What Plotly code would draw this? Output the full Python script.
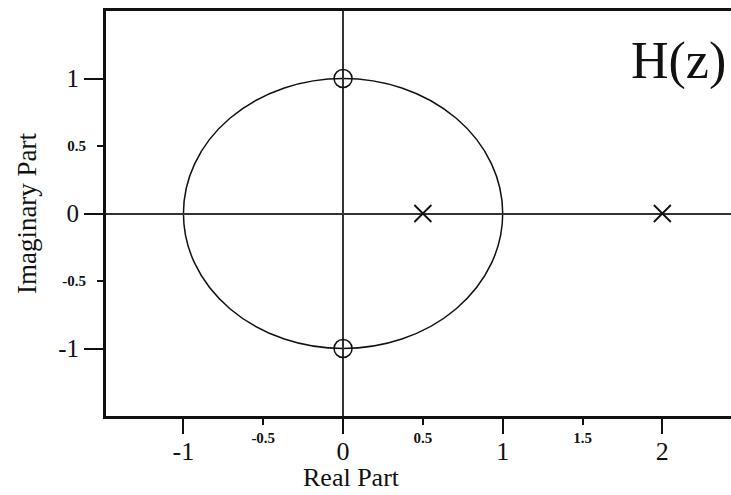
import plotly.graph_objects as go

# pole-zero data for H(z)
zeros_re = [0, 0]
zeros_im = [1, -1]
poles_re = [0.5, 2]
poles_im = [0, 0]
unit_radius = 1

# axis ticks (integers get long ticks and big labels, halves short/small)
x_major = [-1, 0, 1, 2]
x_minor = [-0.5, 0.5, 1.5]
y_major = [-1, 0, 1]
y_minor = [-0.5, 0.5]
x_range = [-1.485, 2.43]
y_range = [-1.5, 1.5]

SERIF = "Liberation Serif, Times New Roman, serif"
INK = "#111111"

fig = go.Figure()

fig.add_trace(go.Scatter(
    x=zeros_re, y=zeros_im, mode="markers", name="zeros",
    marker=dict(symbol="circle-open", size=18, color=INK, line=dict(width=1.5)),
    xaxis="x", yaxis="y", hoverinfo="x+y",
))
fig.add_trace(go.Scatter(
    x=poles_re, y=poles_im, mode="markers", name="poles",
    marker=dict(symbol="x-thin-open", size=17, color=INK, line=dict(width=1.8)),
    xaxis="x2", yaxis="y2", hoverinfo="x+y",
))

# unit circle
fig.add_shape(type="circle", xref="x", yref="y",
              x0=-unit_radius, x1=unit_radius, y0=-unit_radius, y1=unit_radius,
              line=dict(color=INK, width=1.5), layer="below")

fig.add_annotation(text="H(z)", xref="paper", yref="paper", x=0.9952, y=0.877,
                   xanchor="right", yanchor="middle", showarrow=False,
                   font=dict(family=SERIF, size=52, color=INK))
# x title sits under x=0 in the original, not the middle of the plot
fig.add_annotation(text="Real Part", xref="x", yref="paper", x=0.05, y=-0.1926,
                   xanchor="center", yanchor="bottom", showarrow=False,
                   font=dict(family=SERIF, size=26, color=INK))

common = dict(showgrid=False, fixedrange=True)

fig.update_layout(
    width=731, height=495,
    margin=dict(l=106, r=0, t=11, b=79),
    paper_bgcolor="white", plot_bgcolor="white",
    showlegend=False,
    font=dict(family=SERIF, color=INK),
    xaxis=dict(
        range=x_range, tickvals=x_major, ticktext=[str(v) for v in x_major],
        ticks="outside", ticklen=15, tickwidth=2, tickcolor=INK, ticklabelstandoff=-5,
        tickfont=dict(size=26, family=SERIF, color=INK),
        showline=True, linewidth=3, linecolor=INK, mirror=True,
        zeroline=True, zerolinewidth=1.6, zerolinecolor="#333333",
        **common,
    ),
    xaxis2=dict(
        range=x_range, overlaying="x", anchor="y", side="bottom",
        tickvals=x_minor, ticktext=["<b>%g</b>" % v for v in x_minor],
        ticks="outside", ticklen=8, tickwidth=2, tickcolor=INK,
        tickfont=dict(size=15, family=SERIF, color=INK),
        showline=False, zeroline=False, **common,
    ),
    yaxis=dict(
        range=y_range, tickvals=y_major, ticktext=[str(v) for v in y_major],
        ticks="outside", ticklen=19, tickwidth=2, tickcolor=INK,
        tickfont=dict(size=25, family=SERIF, color=INK),
        showline=True, linewidth=3, linecolor=INK, mirror=False,
        zeroline=True, zerolinewidth=1.6, zerolinecolor="#333333",
        title=dict(text="Imaginary Part", font=dict(size=27, family=SERIF, color=INK), standoff=14),
        **common,
    ),
    yaxis2=dict(
        range=y_range, overlaying="y", anchor="x", side="left",
        tickvals=y_minor, ticktext=["<b>%g</b>" % v for v in y_minor],
        ticks="outside", ticklen=8, tickwidth=2, tickcolor=INK, ticklabelstandoff=8,
        tickfont=dict(size=15, family=SERIF, color=INK),
        showline=False, zeroline=False, **common,
    ),
)

# drop the page's default body margin so the figure fills the window exactly
fig.write_html("out.html", config={"displayModeBar": False},
               post_script="document.body.style.margin='0';document.body.style.overflow='hidden';")
